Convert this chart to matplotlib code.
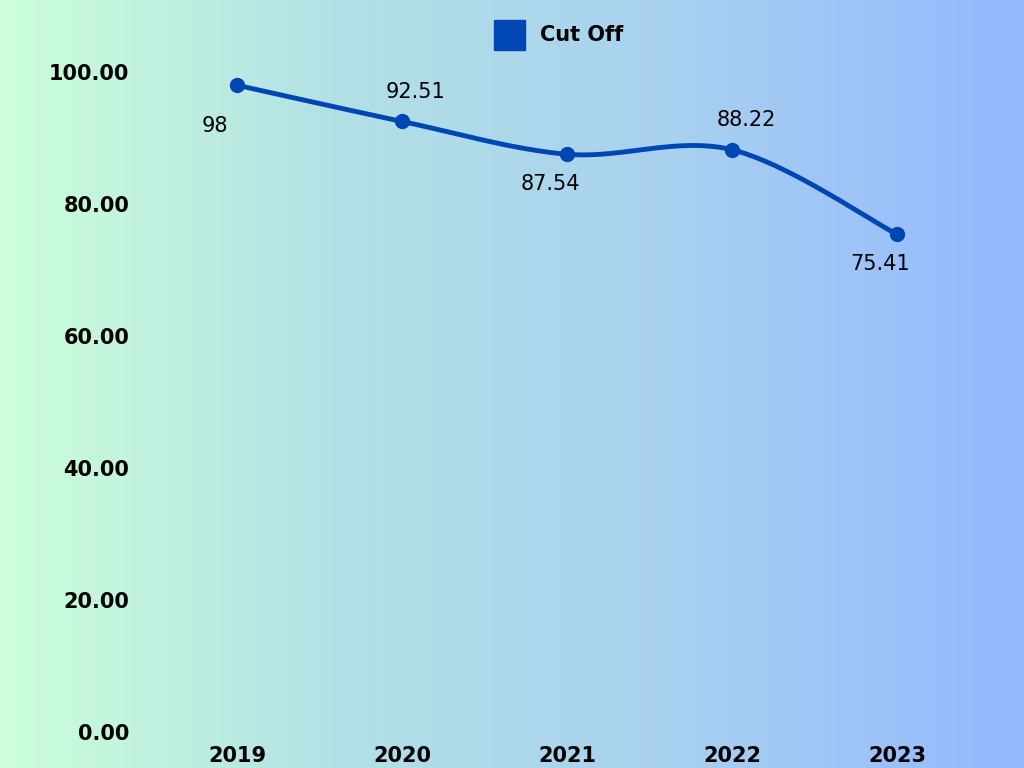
import numpy as np
import matplotlib
matplotlib.use("Agg")
import matplotlib.pyplot as plt
from matplotlib.colors import LinearSegmentedColormap
from matplotlib.patches import Rectangle

years = ["2019", "2020", "2021", "2022", "2023"]
cutoff = [98, 92.51, 87.54, 88.22, 75.41]
labels = ["98", "92.51", "87.54", "88.22", "75.41"]
label_pos = ["below_left", "above", "below", "above", "below"]
yticks = [0, 20, 40, 60, 80, 100]

color = "#0047b3"
fig = plt.figure(figsize=(10.24, 7.68), dpi=100)
bg = fig.add_axes([0, 0, 1, 1], zorder=-10)
cmap = LinearSegmentedColormap.from_list("g", ["#ccffd9", "#b3e0e6", "#a8d0f0", "#94b8ff"])
bg.imshow(np.linspace(0, 1, 256)[None, :], aspect="auto", cmap=cmap, extent=[0, 1, 0, 1])
bg.axis("off")

ax = fig.add_axes([154.5/1024, 36/768, 825/1024, 660/768])
ax.patch.set_alpha(0)
x = np.arange(len(years))
y = np.array(cutoff, float)

# Catmull-Rom smoothing of the line through the data points
px = np.concatenate([[x[0]], x, [x[-1]]]).astype(float)
py = np.concatenate([[y[0]], y, [y[-1]]])
xs, ys = [], []
for i in range(1, len(px) - 2):
    t = np.linspace(0, 1, 40)
    for arr, out in ((px, xs), (py, ys)):
        p0, p1, p2, p3 = arr[i-1], arr[i], arr[i+1], arr[i+2]
        out.extend(0.5*((2*p1) + (-p0+p2)*t + (2*p0-5*p1+4*p2-p3)*t**2 + (-p0+3*p1-3*p2+p3)*t**3))
ax.plot(xs, ys, color=color, lw=3.5, solid_capstyle="round")
ax.plot(x, y, "o", color=color, ms=10)

for xi, yi, lab, pos in zip(x, y, labels, label_pos):
    if pos == "above":
        ax.annotate(lab, (xi, yi), xytext=(10, 14), textcoords="offset points", ha="center", va="bottom", fontsize=15)
    elif pos == "below":
        ax.annotate(lab, (xi, yi), xytext=(-12, -14), textcoords="offset points", ha="center", va="top", fontsize=15)
    else:
        ax.annotate(lab, (xi, yi), xytext=(-16, -22), textcoords="offset points", ha="center", va="top", fontsize=15)

ax.set_xlim(-0.5, len(years) - 0.5)
ax.set_ylim(0, 100)
ax.set_yticks(yticks)
ax.set_yticklabels([f"{v:.2f}" for v in yticks], fontsize=15, fontweight="bold")
ax.set_xticks(x)
ax.set_xticklabels(years, fontsize=15, fontweight="bold")
ax.tick_params(length=0, pad=18)
ax.tick_params(axis="x", pad=10)
for s in ax.spines.values():
    s.set_visible(False)

fig.patches.append(Rectangle((494/1024, 1-50/768), 31/1024, 30/768, transform=fig.transFigure, color=color))
fig.text(540/1024, 1-35/768, "Cut Off", fontsize=15, fontweight="bold", va="center", ha="left")

fig.savefig("out.png", dpi=100)
